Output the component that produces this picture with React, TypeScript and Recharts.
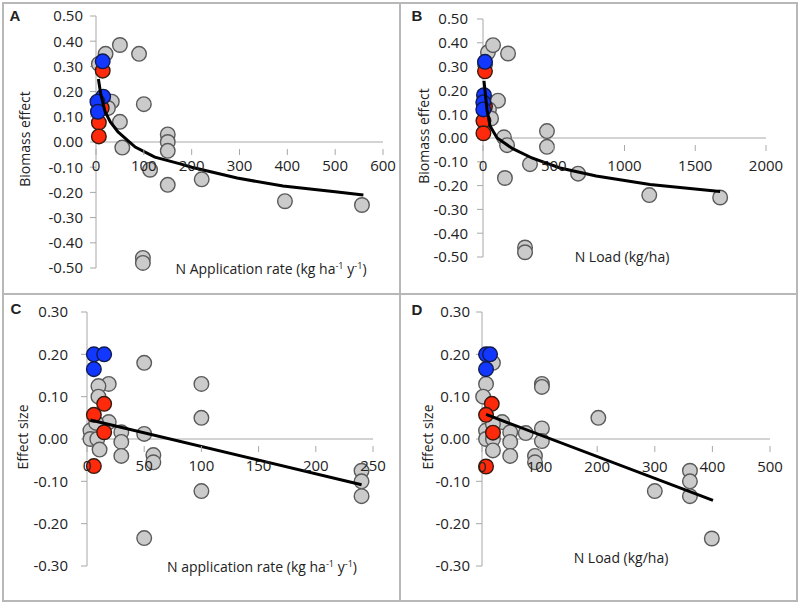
import React from 'react';
import { ScatterChart, Scatter, XAxis, YAxis, ReferenceLine } from 'recharts';

// ---------- Panel A: Biomass effect vs N application rate ----------
const aGrayX = [6, 20, 50, 90, 100, 33, 25, 50, 55, 150, 150, 150, 113, 150, 221, 395, 556, 98, 98];
const aGrayY = [0.31, 0.35, 0.385, 0.35, 0.15, 0.16, 0.135, 0.08, -0.022, 0.03, 0.0, -0.035, -0.11, -0.17, -0.148, -0.235, -0.25, -0.46, -0.48];
const aBlueX = [14, 15, 3, 4];
const aBlueY = [0.32, 0.18, 0.16, 0.12];
const aRedX = [14, 12, 6, 6];
const aRedY = [0.283, 0.135, 0.077, 0.022];
const aTrendX = [5, 10, 19, 30, 46, 82, 123, 176, 200, 295, 391, 500, 559];
const aTrendY = [0.25, 0.19, 0.12, 0.08, 0.04, -0.02, -0.06, -0.087, -0.1, -0.143, -0.175, -0.197, -0.21];
const aXTicks = [0, 100, 200, 300, 400, 500, 600];
const aYTicks = [-0.5, -0.4, -0.3, -0.2, -0.1, 0, 0.1, 0.2, 0.3, 0.4, 0.5];

// ---------- Panel B: Biomass effect vs N load ----------
const bGrayX = [15, 35, 71, 177, 106, 42, 57, 148, 170, 452, 452, 332, 155, 672, 1175, 1676, 297, 297];
const bGrayY = [0.31, 0.36, 0.39, 0.355, 0.157, 0.12, 0.082, 0.003, -0.03, 0.029, -0.037, -0.11, -0.168, -0.15, -0.24, -0.25, -0.46, -0.48];
const bBlueX = [14, 7, 2, 2];
const bBlueY = [0.32, 0.18, 0.15, 0.12];
const bRedX = [14, 14, 3, 3];
const bRedY = [0.28, 0.132, 0.072, 0.02];
const bTrendX = [7, 28, 50, 100, 210, 350, 545, 800, 1180, 1676];
const bTrendY = [0.24, 0.12, 0.05, 0.0, -0.045, -0.085, -0.126, -0.16, -0.195, -0.225];
const bXTicks = [0, 500, 1000, 1500, 2000];
const bYTicks = aYTicks;

// ---------- Panel C: Effect size vs N application rate ----------
const cGrayX = [50, 100, 100, 100, 50, 240, 240, 240, 19, 10, 10, 19, 50, 30, 30, 30, 58, 58, 3, 3, 9, 11, 8];
const cGrayY = [0.18, 0.13, 0.05, -0.123, -0.234, -0.075, -0.1, -0.135, 0.13, 0.125, 0.1, 0.04, 0.012, 0.016, -0.007, -0.04, -0.038, -0.055, 0.02, 0.0, 0.0, -0.025, 0.038];
const cBlueX = [6, 15, 6];
const cBlueY = [0.2, 0.2, 0.165];
const cRedX = [15, 6, 15, 6];
const cRedY = [0.083, 0.057, 0.016, -0.064];
const cTrendX = [3, 240];
const cTrendY = [0.045, -0.108];
const cXTicks = [0, 50, 100, 150, 200, 250];
const cYTicks = [-0.3, -0.2, -0.1, 0, 0.1, 0.2, 0.3];

// ---------- Panel D: Effect size vs N load ----------
const dGrayX = [19, 7, 2, 104, 104, 202, 300, 361, 361, 361, 399, 35, 49, 49, 49, 76, 104, 104, 92, 92, 7, 7, 19, 19, 19];
const dGrayY = [0.18, 0.13, 0.1, 0.13, 0.123, 0.05, -0.123, -0.075, -0.1, -0.135, -0.235, 0.04, 0.016, -0.007, -0.04, 0.014, 0.025, -0.005, -0.04, -0.055, 0.02, 0.0, 0.0, -0.027, 0.035];
const dBlueX = [7, 14, 7];
const dBlueY = [0.2, 0.2, 0.165];
const dRedX = [17, 7, 19, 7];
const dRedY = [0.083, 0.057, 0.015, -0.065];
const dTrendX = [7, 401];
const dTrendY = [0.058, -0.145];
const dXTicks = [0, 100, 200, 300, 400, 500];
const dYTicks = cYTicks;

const zip = (xs: number[], ys: number[]) => xs.map((x, i) => ({ x, y: ys[i] }));

const AXIS = '#a8a8a8';
const FONT = '"Open Sans", "Liberation Sans", sans-serif';
const GRAY = '#cbcbcb';
const BLUE = '#1238ff';
const RED = '#ff2a0c';
const TICK_FS = 15;

const dot = (fill: string, stroke: string) => (p: any) => (
  <circle cx={p.cx} cy={p.cy} r={7.3} fill={fill} stroke={stroke} strokeWidth={1.4} />
);
const noDot = () => <g />;

function XTick(props: any) {
  const { x, y, payload, shift, labelDy } = props;
  const y0 = y - shift;
  return (
    <g>
      <line x1={x} x2={x} y1={y0 - 1} y2={y0 + 5} stroke={AXIS} strokeWidth={1} />
      <text x={x} y={y0 + labelDy} textAnchor="middle" dominantBaseline="central" fontSize={TICK_FS} fontFamily={FONT} fill="#222">
        {payload.value}
      </text>
    </g>
  );
}

type PanelProps = {
  left: number; top: number; width: number; height: number;
  plotLeft: number; plotRight: number; plotTop: number; plotBottom: number;
  xMax: number; xTicks: number[]; yMin: number; yMax: number; yTicks: number[];
  gray: any[]; blue: any[]; red: any[]; trend: any[];
  yTickMargin: number; xLabelDy: number;
};

function Panel(p: PanelProps) {
  const plotH = p.plotBottom - p.plotTop;
  const shift = plotH * (0 - p.yMin) / (p.yMax - p.yMin);
  return (
    <div style={{ position: 'absolute', left: p.left, top: p.top }}>
      <ScatterChart
        width={p.width}
        height={p.height}
        margin={{ left: 0, top: p.plotTop, right: p.width - p.plotRight, bottom: p.height - p.plotBottom - 1 }}
      >
        <XAxis
          type="number"
          dataKey="x"
          domain={[0, p.xMax]}
          ticks={p.xTicks}
          height={1}
          axisLine={false}
          tickLine={false}
          tick={<XTick shift={shift} labelDy={p.xLabelDy} />}
          interval={0}
        />
        <YAxis
          type="number"
          dataKey="y"
          domain={[p.yMin, p.yMax]}
          ticks={p.yTicks}
          width={p.plotLeft}
          interval={0}
          axisLine={{ stroke: AXIS }}
          tickLine={{ stroke: AXIS }}
          tickSize={6}
          tickMargin={p.yTickMargin}
          tickFormatter={(v: number) => v.toFixed(2)}
          tick={{ fontSize: TICK_FS, fontFamily: FONT, fill: '#222' }}
        />
        <ReferenceLine y={0} stroke={AXIS} strokeWidth={1} />
        <Scatter data={p.gray} shape={dot(GRAY, '#5a5a5a')} isAnimationActive={false} />
        <Scatter data={p.red} shape={dot(RED, '#3a1a10')} isAnimationActive={false} />
        <Scatter data={p.blue} shape={dot(BLUE, '#101a50')} isAnimationActive={false} />
        <Scatter data={p.trend} shape={noDot} line={{ stroke: '#000', strokeWidth: 3 }} isAnimationActive={false} />
      </ScatterChart>
    </div>
  );
}

const Txt = ({ x, y, children, size = 14, bold = false, rotate = false }: any) => (
  <div
    style={{
      position: 'absolute', left: x, top: y,
      transform: `translate(-50%, -50%)${rotate ? ' rotate(-90deg)' : ''}`,
      whiteSpace: 'nowrap', fontSize: size, fontFamily: bold ? '"Liberation Sans", Arial, sans-serif' : FONT,
      fontWeight: bold ? 700 : 400, color: '#222', lineHeight: 1,
    }}
  >
    {children}
  </div>
);

const sup: React.CSSProperties = { fontSize: '0.65em', verticalAlign: '0.55em' };

export default function App() {
  const border = '#b8b8b8';
  return (
    <div style={{ position: 'absolute', left: 0, top: 0, width: 800, height: 606, background: '#fff', overflow: 'hidden' }}>
      <Panel left={0} top={0} width={400} height={294}
        plotLeft={96} plotRight={383} plotTop={16} plotBottom={268}
        xMax={600} xTicks={aXTicks} yMin={-0.5} yMax={0.5} yTicks={aYTicks}
        gray={zip(aGrayX, aGrayY)} blue={zip(aBlueX, aBlueY)} red={zip(aRedX, aRedY)} trend={zip(aTrendX, aTrendY)}
        yTickMargin={7} xLabelDy={15} />
      <Panel left={400} top={0} width={400} height={294}
        plotLeft={83} plotRight={366} plotTop={19} plotBottom={257}
        xMax={2000} xTicks={bXTicks} yMin={-0.5} yMax={0.5} yTicks={bYTicks}
        gray={zip(bGrayX, bGrayY)} blue={zip(bBlueX, bBlueY)} red={zip(bRedX, bRedY)} trend={zip(bTrendX, bTrendY)}
        yTickMargin={9} xLabelDy={19} />
      <Panel left={0} top={294} width={400} height={306}
        plotLeft={87} plotRight={373} plotTop={18} plotBottom={272}
        xMax={250} xTicks={cXTicks} yMin={-0.3} yMax={0.3} yTicks={cYTicks}
        gray={zip(cGrayX, cGrayY)} blue={zip(cBlueX, cBlueY)} red={zip(cRedX, cRedY)} trend={zip(cTrendX, cTrendY)}
        yTickMargin={13} xLabelDy={18} />
      <Panel left={400} top={294} width={400} height={306}
        plotLeft={82} plotRight={370} plotTop={18} plotBottom={272}
        xMax={500} xTicks={dXTicks} yMin={-0.3} yMax={0.3} yTicks={dYTicks}
        gray={zip(dGrayX, dGrayY)} blue={zip(dBlueX, dBlueY)} red={zip(dRedX, dRedY)} trend={zip(dTrendX, dTrendY)}
        yTickMargin={6} xLabelDy={19} />

      {/* axis titles */}
      <Txt x={25} y={139} rotate>Biomass effect</Txt>
      <Txt x={271} y={268}>N Application rate (kg ha<span style={sup}>-1</span> y<span style={sup}>-1</span>)</Txt>
      <Txt x={424} y={136} rotate>Biomass effect</Txt>
      <Txt x={622} y={257}>N Load (kg/ha)</Txt>
      <Txt x={23} y={437} rotate>Effect size</Txt>
      <Txt x={262} y={566}>N application rate (kg ha<span style={sup}>-1</span> y<span style={sup}>-1</span>)</Txt>
      <Txt x={428} y={437} rotate>Effect size</Txt>
      <Txt x={621} y={558}>N Load (kg/ha)</Txt>

      {/* panel letters */}
      <Txt x={15} y={15} bold size={15}>A</Txt>
      <Txt x={417} y={15} bold size={15}>B</Txt>
      <Txt x={16} y={308} bold size={15}>C</Txt>
      <Txt x={417} y={309} bold size={15}>D</Txt>

      {/* panel borders */}
      <div style={{ position: 'absolute', left: 2, top: 2, width: 796, height: 600, border: `2px solid ${border}`, boxSizing: 'border-box' }} />
      <div style={{ position: 'absolute', left: 399, top: 2, width: 2, height: 600, background: border }} />
      <div style={{ position: 'absolute', left: 2, top: 293, width: 796, height: 2, background: border }} />
    </div>
  );
}
